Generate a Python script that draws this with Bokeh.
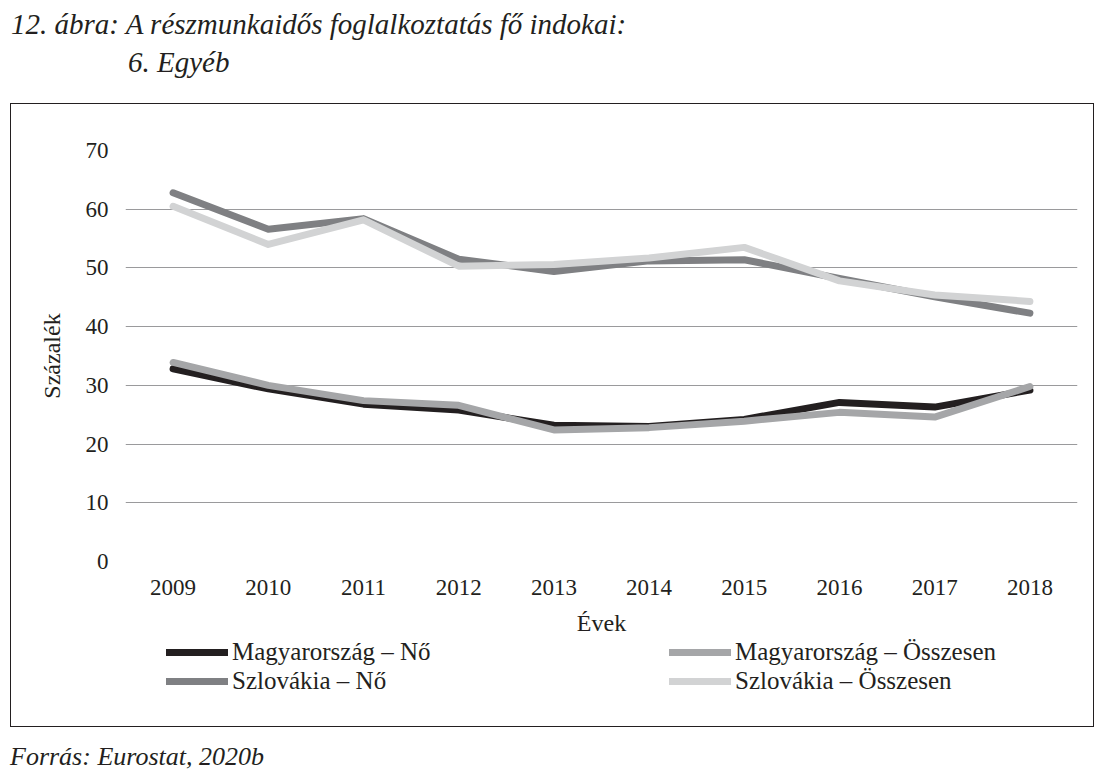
from bokeh.plotting import figure
from bokeh.models import Div, Legend, LegendItem, FactorRange, Range1d, SingleIntervalTicker
from bokeh.layouts import column
from bokeh.embed import file_html
from bokeh.resources import INLINE

years = ["2009", "2010", "2011", "2012", "2013", "2014", "2015", "2016", "2017", "2018"]
hu_no = [32.8, 29.4, 26.8, 25.8, 23.2, 23.0, 24.2, 27.1, 26.3, 29.2]
hu_ossz = [33.9, 30.0, 27.4, 26.6, 22.4, 22.8, 23.9, 25.4, 24.6, 29.8]
sk_no = [62.8, 56.6, 58.4, 51.5, 49.4, 51.2, 51.4, 48.2, 45.1, 42.3]
sk_ossz = [60.5, 54.0, 58.2, 50.3, 50.6, 51.7, 53.5, 47.8, 45.4, 44.3]

series_names = ["Magyarország – Nő", "Magyarország – Összesen", "Szlovákia – Nő", "Szlovákia – Összesen"]
series_values = [hu_no, hu_ossz, sk_no, sk_ossz]
series_colors = ["#231f20", "#a5a6a8", "#7f8083", "#d2d3d4"]

title_line1 = "12. ábra: A részmunkaidős foglalkoztatás fő indokai:"
title_line2 = "6. Egyéb"
source_text = "Forrás: Eurostat, 2020b"
x_label = "Évek"
y_label = "Százalék"

FONT = "Liberation Serif"
TXT = "#231f20"

title_div = Div(
    text=(f'<div style="font-family:\'{FONT}\';font-style:italic;font-size:29px;'
          f'line-height:38px;color:{TXT};padding:5px 0 0 11px;margin:0;white-space:nowrap">'
          f'{title_line1}<br><span style="padding-left:117px">{title_line2}</span></div>'),
    width=1114, height=103, margin=0,
)

# main chart
p = figure(
    x_range=FactorRange(factors=years, range_padding=0),
    y_range=Range1d(0, 70),
    frame_width=952, frame_height=411,
    output_backend="svg", toolbar_location=None,
    min_border_left=114, min_border_right=16, min_border_top=46, min_border_bottom=76,
)
p.margin = 0
p.outline_line_color = None

renderers = []
for vals, col in zip(series_values, series_colors):
    r = p.line(years, vals, line_color=col, line_width=7, line_cap="round", line_join="round")
    renderers.append(r)

p.xgrid.grid_line_color = None
p.ygrid.grid_line_color = "#9a9a9c"
p.ygrid.grid_line_width = 1
p.yaxis.ticker = SingleIntervalTicker(interval=10)

for ax in (p.xaxis[0], p.yaxis[0]):
    ax.axis_line_color = None
    ax.major_tick_line_color = None
    ax.minor_tick_line_color = None
    ax.major_tick_out = 0
    ax.major_tick_in = 0
    ax.major_label_text_font = FONT
    ax.major_label_text_font_size = "23px"
    ax.major_label_text_color = TXT
    ax.axis_label_text_font = FONT
    ax.axis_label_text_font_size = "24px"
    ax.axis_label_text_font_style = "normal"
    ax.axis_label_text_color = TXT

p.xaxis.axis_label = x_label
p.yaxis.axis_label = y_label
p.xaxis.major_label_standoff = 18
p.xaxis.axis_label_standoff = 12
p.yaxis.major_label_standoff = 13
p.yaxis.axis_label_standoff = 18

# legend strip (inside the same bordered box); the series are drawn again here,
# far outside its visible range, only so the legend has renderers to show
pl = figure(
    x_range=FactorRange(factors=years, range_padding=0), y_range=Range1d(1000, 1001),
    frame_width=952, frame_height=88,
    x_axis_type=None, y_axis_type=None,
    output_backend="svg", toolbar_location=None,
    min_border_left=114, min_border_right=16, min_border_top=0, min_border_bottom=0,
)
pl.margin = 0
pl.grid.visible = False
pl.outline_line_color = None

proxies = []
for vals, col in zip(series_values, series_colors):
    proxies.append(pl.line(years, vals, line_color=col, line_width=7,
                           line_cap="round", line_join="round"))


def make_legend(idx, loc):
    return Legend(
        items=[LegendItem(label=series_names[i], renderers=[proxies[i]]) for i in idx],
        location=loc, orientation="vertical",
        glyph_width=62, glyph_height=24, label_standoff=4, label_height=24,
        spacing=1, padding=0, margin=0,
        label_text_font=FONT, label_text_font_size="25px", label_text_color=TXT,
        background_fill_alpha=0, border_line_alpha=0,
    )


pl.add_layout(make_legend([0, 2], (41, 31)), "center")
pl.add_layout(make_legend([1, 3], (544, 31)), "center")

box = column(p, pl, spacing=0, margin=(0, 0, 0, 10),
             styles={"border": "1px solid #231f20"})

source_div = Div(
    text=(f'<div style="font-family:\'{FONT}\';font-style:italic;font-size:26px;'
          f'line-height:26px;color:{TXT};padding:17px 0 0 10px;margin:0;white-space:nowrap">'
          f'{source_text}</div>'),
    width=1114, height=54, margin=0,
)

layout = column(title_div, box, source_div, spacing=0)
open("out.html", "w").write(file_html(layout, INLINE))
